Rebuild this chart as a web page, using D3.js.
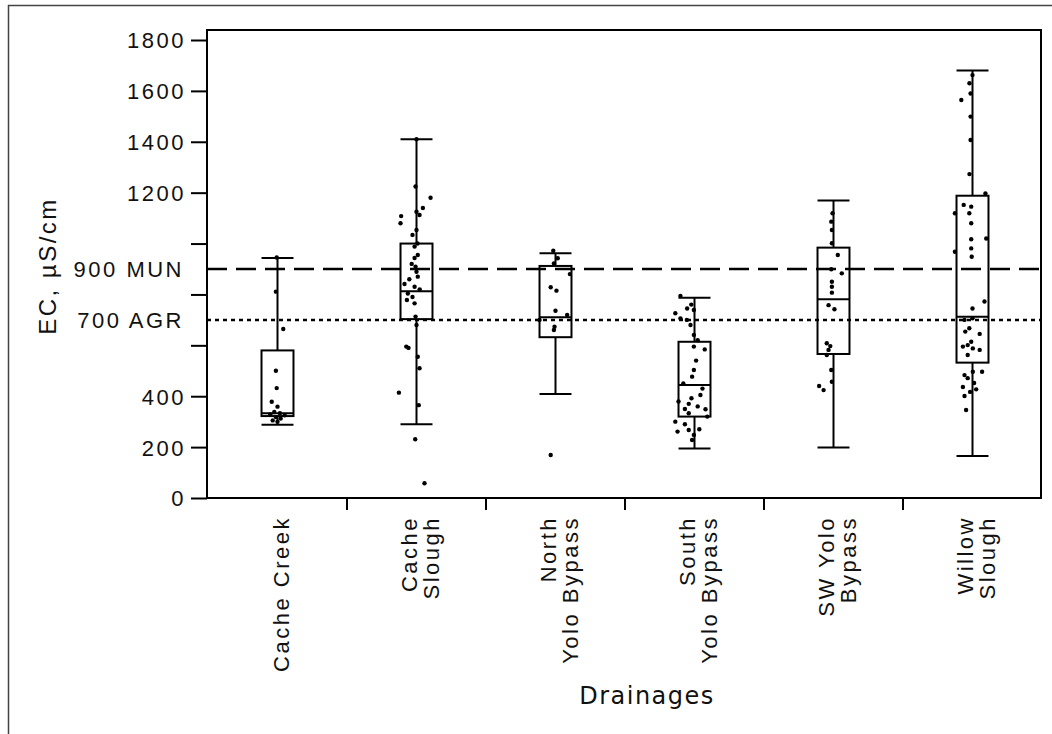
<!DOCTYPE html>
<html>
<head>
<meta charset="utf-8">
<script src="https://cdn.jsdelivr.net/npm/d3@7"></script>
<style>
  html, body { margin: 0; padding: 0; background: #fff; }
  svg { display: block; }
  .lbl { font-family: "Liberation Sans", Arial, sans-serif; font-size: 22px; letter-spacing: 2.5px; fill: #111; }
</style>
</head>
<body>
<svg id="chart" width="1052" height="734"></svg>
<script>
// ---------------- data ----------------
const categories = ["Cache Creek", "Cache Slough", "North Yolo Bypass", "South Yolo Bypass", "SW Yolo Bypass", "Willow Slough"];
const categoryLines = [["Cache  Creek"], ["Cache", "Slough"], ["North", "Yolo  Bypass"], ["South", "Yolo  Bypass"], ["SW Yolo", "Bypass"], ["Willow", "Slough"]];

const whiskerLow  = [288, 290, 409, 195, 198, 165];
const q1          = [322, 703, 632, 320, 566, 532];
const median      = [333, 813, 710, 444, 781, 712];
const q3          = [580, 1000, 912, 614, 984, 1188];
const whiskerHigh = [943, 1410, 962, 787, 1169, 1680];

// observations: [EC value, jitter (fraction of half box width)]
const cacheCreekPts = [[945,-0.05],[811,-0.1],[664,0.36],[500,-0.1],[432,-0.05],[378,-0.36],[359,0],[338,-0.2],[333,0.15],[328,-0.45],[325,0.45],[318,-0.1],[312,0.2],[305,-0.3],[300,0]];
const cacheSloughPts = [[1410,0],[1224,-0.06],[1180,0.88],[1140,0.4],[1125,0],[1112,0.19],[1108,-0.96],[1080,-1.0],[1053,0],[1034,-0.25],[1000,0.06],[988,-0.12],[955,0.08],[943,-0.12],[920,-0.3],[909,-0.06],[889,0],[870,0.08],[860,-0.45],[841,-0.75],[830,-0.12],[820,0.2],[804,-0.54],[790,-0.25],[778,-0.6],[765,-0.12],[713,-0.06],[680,0],[595,-0.64],[590,-0.5],[555,0.08],[510,0.19],[414,-1.1],[365,0.14],[231,-0.08],[58,0.5]];
const northYoloPts = [[972,-0.14],[942,0.14],[922,-0.1],[880,0.9],[828,-0.3],[815,0.06],[736,0],[719,0.73],[700,-1.0],[673,-0.06],[660,-0.1],[169,-0.3]];
const southYoloPts = [[794,-0.88],[760,-0.2],[745,-0.46],[739,-0.04],[726,-1.2],[706,-0.88],[700,-0.48],[680,-0.25],[641,-0.04],[620,0.2],[595,-0.04],[584,0.64],[540,0.1],[503,-0.04],[477,-0.15],[450,-0.7],[430,0.5],[405,0.37],[392,-0.19],[379,-1.0],[370,-0.36],[360,0.2],[350,-0.6],[349,0.69],[333,-0.36],[320,0.8],[300,-1.2],[290,-0.6],[270,0.3],[267,-0.36],[261,-1.06],[248,-0.04],[228,-0.15]];
const swYoloPts = [[1119,-0.06],[1086,-0.14],[1053,-0.1],[1001,-0.1],[955,0.27],[899,-0.14],[883,0.52],[850,-0.1],[830,-0.1],[807,-0.1],[758,-0.31],[742,0.06],[608,-0.42],[597,-0.2],[582,-0.31],[562,-0.42],[503,-0.14],[457,-0.1],[440,-0.9],[424,-0.62]];
const willowPts = [[1662,0],[1630,-0.19],[1590,-0.12],[1564,-0.7],[1499,-0.12],[1407,-0.12],[1273,-0.19],[1197,0.81],[1152,-0.55],[1145,-0.08],[1119,-0.2],[1119,-1.1],[1080,-0.08],[1020,0.86],[1017,-0.08],[981,-0.08],[968,-1.1],[948,-0.05],[772,0.75],[745,0],[706,0],[700,-0.5],[667,-0.2],[654,-0.45],[645,0.45],[614,-0.08],[601,-0.3],[595,-0.6],[588,0.02],[582,0.45],[562,-0.3],[496,0.6],[496,0.02],[483,-0.5],[471,-0.3],[452,0.1],[436,-0.6],[427,0.23],[417,-0.15],[401,-0.5],[346,-0.4]];
const observations = [cacheCreekPts, cacheSloughPts, northYoloPts, southYoloPts, swYoloPts, willowPts];

const yTicks = [0, 200, 400, 600, 800, 1000, 1200, 1400, 1600, 1800];
const yTickLabels = ["0", "200", "400", "", "", "", "1200", "1400", "1600", "1800"];
const refValues = [700, 900];
const refLabels = ["700 AGR", "900 MUN"];
const yTitle = "EC, \u00B5S/cm";
const xTitle = "Drainages";

// ---------------- layout ----------------
const svg = d3.select("#chart");
const plotLeft = 207, plotRight = 1041, plotTop = 30, plotBottom = 498;

const x = d3.scaleBand().domain(categories).range([208, 1042]).padding(0);
const y = d3.scaleLinear().domain([0, 1800]).range([plotBottom, 40]);
const boxHalf = x.bandwidth() * 0.115;

svg.append("rect").attr("width", 1052).attr("height", 734).attr("fill", "#fff");
// outer image border
svg.append("line").attr("x1", 8.5).attr("x2", 8.5).attr("y1", 5).attr("y2", 734).attr("stroke", "#444").attr("stroke-width", 1.5);
svg.append("line").attr("x1", 8).attr("x2", 1052).attr("y1", 5.5).attr("y2", 5.5).attr("stroke", "#444").attr("stroke-width", 1.5);

// reference lines
svg.append("line").attr("x1", plotLeft).attr("x2", plotRight).attr("y1", y(900)).attr("y2", y(900))
  .attr("stroke", "#000").attr("stroke-width", 2.5).attr("stroke-dasharray", "20,9");
svg.append("line").attr("x1", plotLeft).attr("x2", plotRight).attr("y1", y(700)).attr("y2", y(700))
  .attr("stroke", "#000").attr("stroke-width", 2.5).attr("stroke-dasharray", "4,4");

// boxes
const g = svg.append("g");
categories.forEach((c, i) => {
  const cx = x(c) + x.bandwidth() / 2;
  const gg = g.append("g").attr("stroke", "#000").attr("stroke-width", 2).attr("fill", "none");
  gg.append("line").attr("x1", cx).attr("x2", cx).attr("y1", y(whiskerHigh[i])).attr("y2", y(q3[i]));
  gg.append("line").attr("x1", cx).attr("x2", cx).attr("y1", y(q1[i])).attr("y2", y(whiskerLow[i]));
  gg.append("line").attr("x1", cx - boxHalf).attr("x2", cx + boxHalf).attr("y1", y(whiskerHigh[i])).attr("y2", y(whiskerHigh[i]));
  gg.append("line").attr("x1", cx - boxHalf).attr("x2", cx + boxHalf).attr("y1", y(whiskerLow[i])).attr("y2", y(whiskerLow[i]));
  gg.append("rect").attr("x", cx - boxHalf).attr("width", 2 * boxHalf)
    .attr("y", y(q3[i])).attr("height", y(q1[i]) - y(q3[i]));
  gg.append("line").attr("x1", cx - boxHalf).attr("x2", cx + boxHalf).attr("y1", y(median[i])).attr("y2", y(median[i]));
  g.append("g").selectAll("circle").data(observations[i]).join("circle")
    .attr("cx", d => cx + d[1] * boxHalf)
    .attr("cy", d => y(d[0]))
    .attr("r", 2.2).attr("fill", "#000");
});

// frame
svg.append("rect").attr("x", plotLeft).attr("y", plotTop).attr("width", plotRight - plotLeft).attr("height", plotBottom - plotTop)
  .attr("fill", "none").attr("stroke", "#000").attr("stroke-width", 2);

// y axis
const yAxis = svg.append("g").attr("transform", `translate(${plotLeft},0)`)
  .call(d3.axisLeft(y).tickValues(yTicks).tickSize(16).tickPadding(5)
    .tickFormat((d, i) => yTickLabels[i]));
const yRef = svg.append("g").attr("transform", `translate(${plotLeft},0)`)
  .call(d3.axisLeft(y).tickValues(refValues).tickSize(0).tickPadding(23)
    .tickFormat((d, i) => refLabels[i]));
[yAxis, yRef].forEach(a => {
  a.select(".domain").remove();
  a.selectAll("line").attr("stroke", "#000").attr("stroke-width", 2);
  a.selectAll("text").attr("class", "lbl").attr("fill", "#111").attr("dy", "0.36em");
});

// x axis (ticks at category boundaries)
const xAxisG = svg.append("g").attr("transform", `translate(0,${plotBottom})`);
xAxisG.selectAll("line").data(categories.slice(1)).join("line")
  .attr("x1", d => x(d)).attr("x2", d => x(d)).attr("y1", 0).attr("y2", 12)
  .attr("stroke", "#000").attr("stroke-width", 2);

categories.forEach((c, i) => {
  const cx = x(c) + x.bandwidth() / 2 + 4;
  const lines = categoryLines[i];
  const t = svg.append("text").attr("class", "lbl")
    .attr("transform", `translate(${cx},516) rotate(-90)`)
    .attr("text-anchor", "end");
  lines.forEach((ln, k) => {
    t.append("tspan").attr("x", 0).attr("y", (k - (lines.length - 1) / 2) * 22)
      .attr("dominant-baseline", "central").text(ln);
  });
});

// titles
svg.append("text").attr("class", "lbl")
  .attr("transform", "translate(47,266) rotate(-90)")
  .attr("text-anchor", "middle").attr("dominant-baseline", "central")
  .style("font-size", "24px").style("letter-spacing", "2.5px")
  .text(yTitle);
svg.append("text")
  .attr("x", 647).attr("y", 704).attr("text-anchor", "middle")
  .style("font-family", "'DejaVu Sans', sans-serif").style("font-size", "24px").style("letter-spacing", "1.5px")
  .attr("fill", "#111")
  .text(xTitle);
</script>
</body>
</html>
